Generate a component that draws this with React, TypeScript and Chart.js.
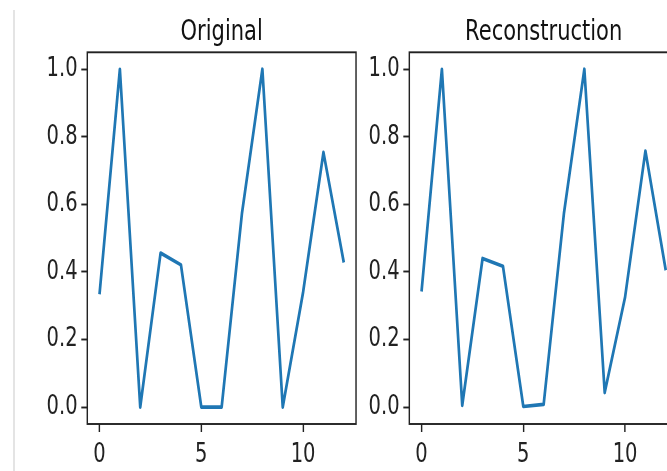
import React, { useEffect, useRef } from "react";
import { Chart, registerables } from "chart.js";

Chart.register(...registerables);

// ---- data ----
const steps = [0, 1, 2, 3, 4, 5, 6, 7, 8, 9, 10, 11, 12];
const original = [0.334, 1.0, 0.0, 0.456, 0.421, 0.0, 0.0, 0.575, 1.0, 0.0, 0.34, 0.754, 0.428];
const reconstruction = [0.342, 1.0, 0.005, 0.44, 0.417, 0.002, 0.008, 0.575, 1.0, 0.043, 0.325, 0.758, 0.405];
const yTickValues = [0, 0.2, 0.4, 0.6, 0.8, 1.0];
const xTickValues = [0, 5, 10];
const titles = ["Original", "Reconstruction"];

// horizontal squeeze of the reference picture
const SX = 0.75;
const H = 471;

// draw everything with a horizontal squeeze (like the reference picture)
const squeezePlugin = {
  id: "squeeze",
  beforeDraw(chart: any) {
    chart.ctx.setTransform(SX, 0, 0, 1, 0, 0);
  },
};

const framePlugin = {
  id: "frame",
  afterDatasetsDraw(chart: any) {
    const { ctx, chartArea } = chart;
    const { left, top, right, bottom } = chartArea;
    ctx.save();
    ctx.strokeStyle = "#222";
    ctx.lineWidth = 1.9;
    ctx.strokeRect(left, top, right - left, bottom - top);
    ctx.restore();
  },
};

const tickFont = { family: "DejaVu Sans", size: 26, weight: "normal" as const, lineHeight: 1.2 };

function makeConfig(title: string, values: number[], yWidth: number, padRight: number): any {
  return {
    type: "line",
    data: {
      datasets: [
        {
          data: steps.map((x, i) => ({ x, y: values[i] })),
          borderColor: "#1f77b4",
          borderWidth: 3.6,
          pointRadius: 0,
          tension: 0,
          fill: false,
          borderJoinStyle: "round",
        },
      ],
    },
    options: {
      responsive: false,
      animation: false,
      devicePixelRatio: 1,
      layout: { padding: { left: 0, right: padRight, top: 0, bottom: 0 } },
      plugins: {
        legend: { display: false },
        tooltip: { enabled: false },
        title: {
          display: true,
          text: title,
          fullSize: false,
          color: "#111",
          font: { family: "DejaVu Sans", size: 28, weight: "normal", lineHeight: 1.2 },
          padding: { top: 15.5, bottom: 3.2 },
        },
      },
      scales: {
        x: {
          type: "linear",
          min: -0.6,
          max: 12.6,
          afterBuildTicks: (s: any) => {
            s.ticks = xTickValues.map((v) => ({ value: v }));
          },
          afterFit: (s: any) => {
            s.height = 47;
          },
          border: { display: false },
          grid: {
            drawOnChartArea: false,
            drawTicks: true,
            tickLength: 8,
            tickWidth: 1.9,
            tickColor: "#222",
          },
          ticks: {
            font: tickFont,
            color: "#222",
            padding: 8,
            maxRotation: 0,
            autoSkip: false,
            callback: (v: any) => String(v),
          },
        },
        y: {
          type: "linear",
          min: -0.05,
          max: 1.05,
          afterBuildTicks: (s: any) => {
            s.ticks = yTickValues.map((v) => ({ value: v }));
          },
          afterFit: (s: any) => {
            s.width = yWidth;
          },
          border: { display: false },
          grid: {
            drawOnChartArea: false,
            drawTicks: true,
            tickLength: 8,
            tickWidth: 1.9,
            tickColor: "#222",
          },
          ticks: {
            font: tickFont,
            color: "#222",
            padding: 5,
            autoSkip: false,
            callback: (v: any) => Number(v).toFixed(1),
          },
        },
      },
    },
    plugins: [squeezePlugin, framePlugin],
  };
}

function Panel(props: { left: number; width: number; title: string; values: number[]; yWidth: number; padRight: number }) {
  const ref = useRef<HTMLCanvasElement | null>(null);
  useEffect(() => {
    if (!ref.current) return;
    const chart = new Chart(ref.current, makeConfig(props.title, props.values, props.yWidth, props.padRight));
    return () => chart.destroy();
  }, []);
  return (
    <canvas
      ref={ref}
      width={props.width}
      height={H}
      style={{ position: "absolute", left: props.left, top: 0, width: props.width, height: H }}
    />
  );
}

export default function App() {
  return (
    <div
      style={{
        position: "absolute",
        left: 0,
        top: 0,
        width: 667,
        height: 471,
        overflow: "hidden",
        background: "#fff",
      }}
    >
      <div style={{ position: "absolute", left: 13, top: 10, width: 2, height: 461, background: "#e4e4e4" }} />
      <Panel left={0} width={490} title={titles[0]} values={original} yWidth={116.4} padRight={15.3} />
      <Panel left={368} width={440} title={titles[1]} values={reconstruction} yWidth={55.1} padRight={26.7} />
    </div>
  );
}
